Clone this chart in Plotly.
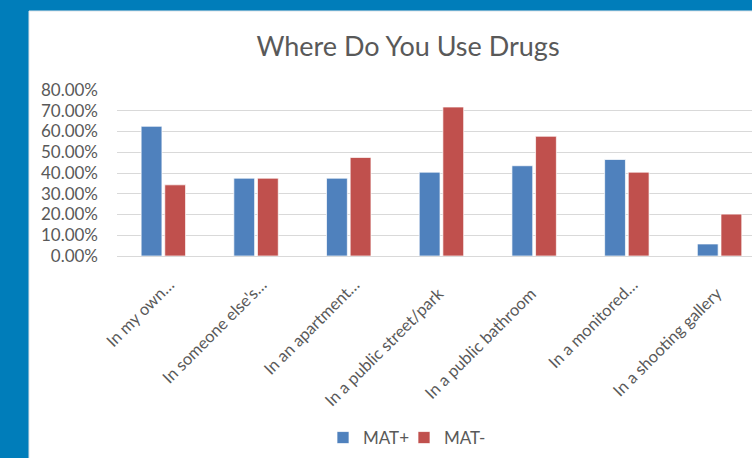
import plotly.graph_objects as go

categories = ["In my own…", "In someone else's…", "In an apartment…",
              "In a public street/park", "In a public bathroom",
              "In a monitored…", "In a shooting gallery"]
mat_plus = [0.625, 0.375, 0.375, 0.404, 0.435, 0.465, 0.058]
mat_minus = [0.343, 0.375, 0.475, 0.718, 0.577, 0.404, 0.202]
y_ticks = [0, 0.1, 0.2, 0.3, 0.4, 0.5, 0.6, 0.7, 0.8]

FONT = "Lato"
GRAY = "#595959"
BLUE_BG = "#007DBA"
W, H = 752, 458
L, T, B = 117, 90, 202

# Excel places un-truncated rotated labels slightly further along the diagonal;
# emulate with trailing non-breaking spaces on display text only.
tick_text = [c if c.endswith("…") else c + "\u00a0\u00a0\u00a0" for c in categories]

fig = go.Figure()
fig.add_trace(go.Bar(name="MAT+", x=categories, y=mat_plus,
                     marker=dict(color="#4F81BD", line=dict(color="rgba(255,255,255,0.7)", width=1))))
fig.add_trace(go.Bar(name="MAT-", x=categories, y=mat_minus,
                     marker=dict(color="#C0504D", line=dict(color="rgba(255,255,255,0.7)", width=1))))

pw = W - L
ph = H - T - B
fig.update_layout(
    width=W, height=H,
    margin=dict(l=L, r=0, t=T, b=B, pad=0),
    paper_bgcolor=BLUE_BG,
    plot_bgcolor="white",
    barmode="group", bargap=0.49, bargroupgap=0.12,
    font=dict(family=FONT, color=GRAY),
    title=dict(text="Where Do You Use Drugs", x=408 / W, xanchor="center",
               xref="container", yref="container", y=1 - 47 / H, yanchor="middle",
               font=dict(size=27, color=GRAY, family=FONT)),
    showlegend=True,
    legend=dict(orientation="h", x=(404 - L) / pw, xanchor="center",
                y=-(438 - (T + ph)) / ph, yanchor="middle",
                font=dict(size=17, color=GRAY), bgcolor="rgba(0,0,0,0)",
                itemwidth=30, traceorder="normal",
                entrywidth=36, entrywidthmode="pixels"),
    xaxis=dict(range=[-0.5, 6.35], tickangle=-45, showgrid=False,
               showline=False, zeroline=False, ticks="",
               tickvals=categories, ticktext=tick_text,
               ticklabelstandoff=15, ticklabelshift=6,
               tickfont=dict(size=16.5, color=GRAY)),
    yaxis=dict(range=[0, 0.8], tickvals=y_ticks, tickformat=".2%",
               showgrid=True, gridcolor="#D9D9D9", gridwidth=1.3,
               zeroline=True, zerolinecolor="#D9D9D9", zerolinewidth=1.3,
               showline=False, ticks="", ticklabelstandoff=18,
               tickfont=dict(size=17, color=GRAY)),
    shapes=[dict(type="rect", xref="paper", yref="paper", layer="below",
                 x0=(29 - L) / pw, x1=(W + 5 - L) / pw,
                 y0=-(H + 5 - T - ph) / ph, y1=1 + (T - 11) / ph,
                 fillcolor="white", line=dict(color="#DDE3E8", width=1))],
)

fig.write_html(
    "out.html",
    config={"displayModeBar": False},
    post_script=f"document.body.style.margin='0';document.body.style.background='{BLUE_BG}';",
)
